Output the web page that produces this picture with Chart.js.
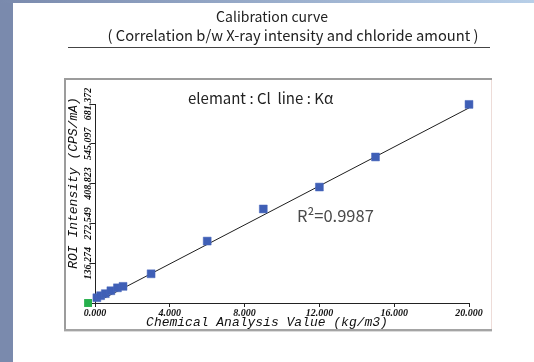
<!DOCTYPE html>
<html>
<head>
<meta charset="utf-8">
<script src="https://cdn.jsdelivr.net/npm/chart.js@4/dist/chart.umd.min.js"></script>
<style>
  html, body { margin: 0; padding: 0; background: #fff; }
  canvas { display: block; }
</style>
</head>
<body>
<canvas id="chart" width="534" height="362"></canvas>
<script>
// calibration samples (kg/m3 vs CPS/mA)
const sampleX = [0.1, 0.3, 0.55, 0.85, 1.2, 1.5, 3.0, 6.0, 9.0, 12.0, 15.0, 20.0];
const sampleY = [18, 25, 32, 42, 52, 57, 100, 212, 322, 397, 500, 680];
// regression line
const fitX = [0.5, 20];
const fitY = [17, 668];
// green blank marker
const blankX = [-0.37];
const blankY = [0];

const xTicks = [0, 4, 8, 12, 16, 20];
const xTickLabels = ['0.000', '4.000', '8.000', '12.000', '16.000', '20.000'];
const yTicks = [0, 136.274, 272.549, 408.823, 545.097, 681.372];
const yTickLabels = ['', '136.274', '272.549', '408.823', '545.097', '681.372'];

const titleLines = ['Calibration curve', '( Correlation b/w X-ray intensity and chloride amount )'];
const xTitle = 'Chemical Analysis Value (kg/m3)';
const yTitle = 'ROI Intensity (CPS/mA)';
const noteText = 'elemant : Cl  line : Kα';
const r2Text = 'R²=0.9987';

const monoFont = '"Liberation Mono", "DejaVu Sans Mono", monospace';
const tickFont = '"Liberation Serif", "DejaVu Serif", serif';
const jpFont = '"Noto Sans CJK JP", "Noto Sans", sans-serif';

const decor = {
    id: 'decor',
    beforeDraw(chart) {
        const ctx = chart.ctx;
        ctx.save();
        ctx.fillStyle = '#ffffff';
        ctx.fillRect(0, 0, 534, 362);

        // side and top strips
        ctx.fillStyle = '#7a8aad';
        ctx.fillRect(0, 0, 13, 362);
        const g = ctx.createLinearGradient(0, 0, 534, 0);
        g.addColorStop(0, '#7a8aad');
        g.addColorStop(1, '#b8cfe8');
        ctx.fillStyle = g;
        ctx.fillRect(0, 0, 534, 3);

        // title
        ctx.fillStyle = '#222';
        ctx.textAlign = 'center';
        ctx.textBaseline = 'middle';
        ctx.font = '14px ' + jpFont;
        ctx.fillText(titleLines[0], 272, 17);
        ctx.font = '14.7px ' + jpFont;
        ctx.fillText(titleLines[1], 293, 35);
        ctx.strokeStyle = '#444';
        ctx.lineWidth = 1;
        ctx.beginPath();
        ctx.moveTo(68, 47.5);
        ctx.lineTo(490, 47.5);
        ctx.stroke();

        // plot frame
        ctx.strokeStyle = '#eddcd8';
        ctx.beginPath();
        ctx.moveTo(491.5, 79);
        ctx.lineTo(491.5, 329);
        ctx.stroke();
        ctx.strokeStyle = '#9c9c9c';
        ctx.lineWidth = 2;
        ctx.beginPath();
        ctx.moveTo(65, 330);
        ctx.lineTo(65, 79);
        ctx.lineTo(492, 79);
        ctx.stroke();
        ctx.strokeStyle = '#a4a4a4';
        ctx.beginPath();
        ctx.moveTo(64, 330);
        ctx.lineTo(492, 330);
        ctx.stroke();
        ctx.strokeStyle = '#dcdcdc';
        ctx.lineWidth = 1;
        ctx.beginPath();
        ctx.moveTo(64, 331.5);
        ctx.lineTo(492, 331.5);
        ctx.stroke();
        ctx.restore();
    },
    afterDraw(chart) {
        const ctx = chart.ctx;
        const ys = chart.scales.y;
        ctx.save();

        // rotated y tick labels
        ctx.fillStyle = '#111';
        ctx.font = 'italic bold 10px ' + tickFont;
        ctx.textAlign = 'center';
        ctx.textBaseline = 'middle';
        yTicks.forEach((v, i) => {
            if (!yTickLabels[i]) return;
            ctx.save();
            ctx.translate(ys.right - 7, ys.getPixelForValue(v));
            ctx.rotate(-Math.PI / 2);
            ctx.fillText(yTickLabels[i], 0, 0);
            ctx.restore();
        });

        // axis titles
        ctx.fillStyle = '#111';
        ctx.font = 'italic 13px ' + monoFont;
        ctx.fillText(xTitle, 267, 323);
        ctx.save();
        ctx.translate(74, 183);
        ctx.rotate(-Math.PI / 2);
        ctx.fillText(yTitle, 0, 0);
        ctx.restore();

        // notes
        ctx.textAlign = 'left';
        ctx.fillStyle = '#222';
        ctx.font = '15px ' + jpFont;
        ctx.fillText(noteText, 188, 98);
        ctx.fillStyle = '#4a4a4a';
        ctx.font = '16.5px ' + jpFont;
        ctx.fillText(r2Text, 297, 216);
        ctx.restore();
    }
};

new Chart(document.getElementById('chart'), {
    type: 'scatter',
    data: {
        datasets: [
            {
                label: 'fit',
                type: 'line',
                data: fitX.map((x, i) => ({ x, y: fitY[i] })),
                borderColor: '#1e1e1e',
                borderWidth: 1,
                pointRadius: 0,
                fill: false,
                order: 3
            },
            {
                label: 'samples',
                data: sampleX.map((x, i) => ({ x, y: sampleY[i] })),
                pointStyle: 'rect',
                pointRadius: 5.6,
                backgroundColor: '#3f5fb6',
                borderColor: '#4a68bc',
                borderWidth: 0.5,
                clip: false,
                order: 1
            },
            {
                label: 'blank',
                data: blankX.map((x, i) => ({ x, y: blankY[i] })),
                pointStyle: 'rect',
                pointRadius: 5.6,
                backgroundColor: '#26b04c',
                borderColor: 'rgba(0,0,0,0)',
                borderWidth: 4,
                clip: false,
                order: 2
            }
        ]
    },
    options: {
        responsive: false,
        animation: false,
        devicePixelRatio: 1,
        layout: { padding: { left: 64, right: 65, top: 104, bottom: 32 } },
        plugins: {
            legend: { display: false },
            tooltip: { enabled: false }
        },
        scales: {
            x: {
                type: 'linear',
                min: 0,
                max: 20,
                afterBuildTicks: (s) => { s.ticks = xTicks.map((v) => ({ value: v })); },
                afterFit: (s) => { s.height = 27; },
                ticks: {
                    callback: (v, i) => xTickLabels[i],
                    color: '#111',
                    padding: 0,
                    maxRotation: 0,
                    font: { family: tickFont, size: 10, style: 'italic', weight: 'bold' }
                },
                grid: { drawOnChartArea: false, drawTicks: true, tickLength: 4, color: '#222' },
                border: { color: '#222', width: 1 }
            },
            y: {
                type: 'linear',
                min: 0,
                max: 681.372,
                afterBuildTicks: (s) => { s.ticks = yTicks.map((v) => ({ value: v })); },
                afterFit: (s) => { s.width = 31; },
                ticks: { display: false },
                grid: { drawOnChartArea: false, drawTicks: true, tickLength: 4, color: '#222' },
                border: { color: '#222', width: 1 }
            }
        }
    },
    plugins: [decor]
});
</script>
</body>
</html>
